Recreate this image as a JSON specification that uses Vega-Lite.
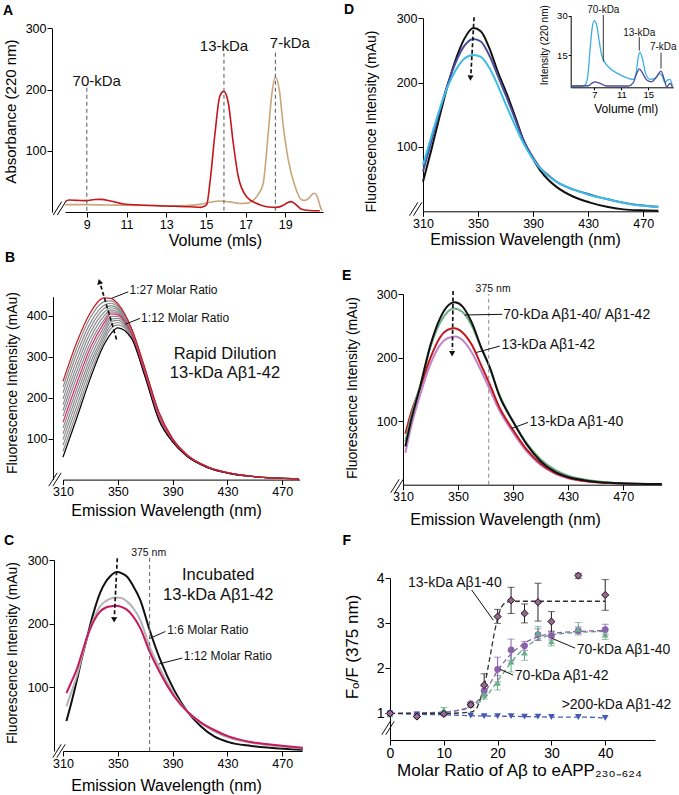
{
"$schema": "https://vega.github.io/schema/vega-lite/v6.json",
"width": 679, "height": 795, "padding": 0, "autosize": {"type": "none"}, "background": "#ffffff",
"config": {
 "view": {"stroke": null},
 "font": "Liberation Sans",
 "axis": {"grid": false, "domainColor": "#000", "tickColor": "#000", "labelColor": "#000", "titleColor": "#000", "labelFont": "Liberation Sans", "titleFont": "Liberation Sans", "titleFontWeight": "normal", "labelFontSize": 12.5, "titleFontSize": 16, "tickSize": 5, "labelPadding": 1, "titleBaseline": "middle", "domainWidth": 1, "tickWidth": 1, "labelOverlap": false, "labelFlush": false},
 "text": {"font": "Liberation Sans", "color": "#111"}
},
"datasets": {
 "A_cur": [
  {"s":"tan","x":7.91,"v":12},{"s":"tan","x":9.0,"v":12},{"s":"tan","x":10.0,"v":11.5},{"s":"tan","x":11.0,"v":11},{"s":"tan","x":12.0,"v":10.5},{"s":"tan","x":13.0,"v":10},{"s":"tan","x":14.0,"v":10.5},{"s":"tan","x":14.7,"v":12.5},{"s":"tan","x":15.2,"v":16},{"s":"tan","x":15.7,"v":18},{"s":"tan","x":16.2,"v":16.5},{"s":"tan","x":16.7,"v":14},{"s":"tan","x":17.1,"v":14.5},{"s":"tan","x":17.4,"v":19.6},{"s":"tan","x":17.7,"v":32},{"s":"tan","x":17.89,"v":47},{"s":"tan","x":18.14,"v":129},{"s":"tan","x":18.31,"v":189},{"s":"tan","x":18.5,"v":220},{"s":"tan","x":18.7,"v":199},{"s":"tan","x":18.9,"v":140},{"s":"tan","x":19.15,"v":85},{"s":"tan","x":19.5,"v":41},{"s":"tan","x":19.82,"v":20},{"s":"tan","x":20.0,"v":19},{"s":"tan","x":20.16,"v":22},{"s":"tan","x":20.45,"v":30.5},{"s":"tan","x":20.6,"v":26},{"s":"tan","x":20.75,"v":10},{"s":"tan","x":20.85,"v":2},
  {"s":"red","x":7.91,"v":17},{"s":"red","x":8.1,"v":19.5},{"s":"red","x":8.5,"v":19},{"s":"red","x":9.0,"v":18.5},{"s":"red","x":9.4,"v":20.5},{"s":"red","x":9.7,"v":20.7},{"s":"red","x":10.2,"v":18},{"s":"red","x":10.85,"v":13},{"s":"red","x":11.7,"v":11.4},{"s":"red","x":13.0,"v":9.8},{"s":"red","x":14.2,"v":8.5},{"s":"red","x":14.75,"v":7.6},{"s":"red","x":15.04,"v":12},{"s":"red","x":15.2,"v":47},{"s":"red","x":15.46,"v":129},{"s":"red","x":15.7,"v":189},{"s":"red","x":15.9,"v":197},{"s":"red","x":16.13,"v":178},{"s":"red","x":16.38,"v":112},{"s":"red","x":16.63,"v":58},{"s":"red","x":17.05,"v":25},{"s":"red","x":17.56,"v":14},{"s":"red","x":18.06,"v":8.7},{"s":"red","x":18.56,"v":7.6},{"s":"red","x":18.9,"v":11},{"s":"red","x":19.1,"v":15},{"s":"red","x":19.3,"v":17},{"s":"red","x":19.57,"v":11},{"s":"red","x":19.82,"v":4.4},{"s":"red","x":20.2,"v":2.5},{"s":"red","x":20.74,"v":2}
 ],
 "A_vl": [{"x":9,"y":2,"y2":204},{"x":15.91,"y":2,"y2":259},{"x":18.5,"y":2,"y2":264.6}],
 "A_txt": [{"x":9.5,"y":214,"t":"70-kDa"},{"x":15.91,"y":271.4,"t":"13-kDa"},{"x":19.23,"y":275.5,"t":"7-kDa"}],
 "A_seg": [{"x":7.31,"y":-4.9,"x2":7.734,"y2":16.99},{"x":7.512,"y":-4.9,"x2":7.935,"y2":16.99}],
 "A_lbl": [{"x":5.03,"y":328.6,"t":"A"}],
 "B_cur": [
  {"s":"c1","x":310,"v":226},{"s":"c1","x":320,"v":321},{"s":"c1","x":330,"v":396},{"s":"c1","x":340,"v":435},{"s":"c1","x":345,"v":437},{"s":"c1","x":350,"v":426},{"s":"c1","x":360,"v":368},{"s":"c1","x":370,"v":268},{"s":"c1","x":380,"v":163},{"s":"c1","x":390,"v":99},{"s":"c1","x":400,"v":62},{"s":"c1","x":415,"v":32},{"s":"c1","x":430,"v":17},{"s":"c1","x":450,"v":7.3},{"s":"c1","x":482,"v":2},
  {"s":"c2","x":310,"v":212},{"s":"c2","x":320,"v":307},{"s":"c2","x":330,"v":383},{"s":"c2","x":340,"v":426},{"s":"c2","x":345,"v":431},{"s":"c2","x":350,"v":422},{"s":"c2","x":360,"v":366},{"s":"c2","x":370,"v":267},{"s":"c2","x":380,"v":162},{"s":"c2","x":390,"v":99},{"s":"c2","x":400,"v":61},{"s":"c2","x":415,"v":32},{"s":"c2","x":430,"v":17},{"s":"c2","x":450,"v":7.2},{"s":"c2","x":482,"v":2},
  {"s":"c3","x":310,"v":197},{"s":"c3","x":320,"v":292},{"s":"c3","x":330,"v":371},{"s":"c3","x":340,"v":418},{"s":"c3","x":345,"v":425},{"s":"c3","x":350,"v":418},{"s":"c3","x":360,"v":364},{"s":"c3","x":370,"v":265},{"s":"c3","x":380,"v":160},{"s":"c3","x":390,"v":98},{"s":"c3","x":400,"v":61},{"s":"c3","x":415,"v":32},{"s":"c3","x":430,"v":17},{"s":"c3","x":450,"v":7.2},{"s":"c3","x":482,"v":2},
  {"s":"c4","x":310,"v":183},{"s":"c4","x":320,"v":278},{"s":"c4","x":330,"v":359},{"s":"c4","x":340,"v":409},{"s":"c4","x":345,"v":420},{"s":"c4","x":350,"v":415},{"s":"c4","x":360,"v":362},{"s":"c4","x":370,"v":264},{"s":"c4","x":380,"v":159},{"s":"c4","x":390,"v":98},{"s":"c4","x":400,"v":61},{"s":"c4","x":415,"v":31},{"s":"c4","x":430,"v":17},{"s":"c4","x":450,"v":7.1},{"s":"c4","x":482,"v":2},
  {"s":"c5","x":310,"v":169},{"s":"c5","x":320,"v":264},{"s":"c5","x":330,"v":346},{"s":"c5","x":340,"v":400},{"s":"c5","x":345,"v":415},{"s":"c5","x":350,"v":411},{"s":"c5","x":360,"v":360},{"s":"c5","x":370,"v":262},{"s":"c5","x":380,"v":157},{"s":"c5","x":390,"v":97},{"s":"c5","x":400,"v":60},{"s":"c5","x":415,"v":31},{"s":"c5","x":430,"v":17},{"s":"c5","x":450,"v":7.1},{"s":"c5","x":482,"v":2},
  {"s":"c6","x":310,"v":155},{"s":"c6","x":320,"v":250},{"s":"c6","x":330,"v":334},{"s":"c6","x":340,"v":391},{"s":"c6","x":345,"v":410},{"s":"c6","x":350,"v":407},{"s":"c6","x":360,"v":358},{"s":"c6","x":370,"v":261},{"s":"c6","x":380,"v":156},{"s":"c6","x":390,"v":96},{"s":"c6","x":400,"v":60},{"s":"c6","x":415,"v":31},{"s":"c6","x":430,"v":16.5},{"s":"c6","x":450,"v":7},{"s":"c6","x":482,"v":2},
  {"s":"c8","x":310,"v":126},{"s":"c8","x":320,"v":221},{"s":"c8","x":330,"v":310},{"s":"c8","x":340,"v":374},{"s":"c8","x":345,"v":399},{"s":"c8","x":350,"v":399},{"s":"c8","x":360,"v":355},{"s":"c8","x":370,"v":258},{"s":"c8","x":380,"v":153},{"s":"c8","x":390,"v":95},{"s":"c8","x":400,"v":60},{"s":"c8","x":415,"v":31},{"s":"c8","x":430,"v":16.5},{"s":"c8","x":450,"v":7},{"s":"c8","x":482,"v":2},
  {"s":"c9","x":310,"v":112},{"s":"c9","x":320,"v":207},{"s":"c9","x":330,"v":297},{"s":"c9","x":340,"v":365},{"s":"c9","x":345,"v":393},{"s":"c9","x":350,"v":394},{"s":"c9","x":360,"v":353},{"s":"c9","x":370,"v":256},{"s":"c9","x":380,"v":151},{"s":"c9","x":390,"v":94},{"s":"c9","x":400,"v":59},{"s":"c9","x":415,"v":31},{"s":"c9","x":430,"v":16.5},{"s":"c9","x":450,"v":7},{"s":"c9","x":482,"v":2},
  {"s":"c10","x":310,"v":98},{"s":"c10","x":320,"v":193},{"s":"c10","x":330,"v":285},{"s":"c10","x":340,"v":356},{"s":"c10","x":345,"v":386},{"s":"c10","x":350,"v":389},{"s":"c10","x":360,"v":351},{"s":"c10","x":370,"v":255},{"s":"c10","x":380,"v":150},{"s":"c10","x":390,"v":94},{"s":"c10","x":400,"v":59},{"s":"c10","x":415,"v":30},{"s":"c10","x":430,"v":16},{"s":"c10","x":450,"v":7},{"s":"c10","x":482,"v":2},
  {"s":"c11","x":310,"v":84},{"s":"c11","x":320,"v":178},{"s":"c11","x":330,"v":273},{"s":"c11","x":340,"v":348},{"s":"c11","x":345,"v":378},{"s":"c11","x":350,"v":384},{"s":"c11","x":360,"v":349},{"s":"c11","x":370,"v":253},{"s":"c11","x":380,"v":148},{"s":"c11","x":390,"v":93},{"s":"c11","x":400,"v":59},{"s":"c11","x":415,"v":30},{"s":"c11","x":430,"v":16},{"s":"c11","x":450,"v":7},{"s":"c11","x":482,"v":2},
  {"s":"c12","x":310,"v":69},{"s":"c12","x":320,"v":164},{"s":"c12","x":330,"v":260},{"s":"c12","x":340,"v":339},{"s":"c12","x":345,"v":370},{"s":"c12","x":350,"v":378},{"s":"c12","x":360,"v":347},{"s":"c12","x":370,"v":252},{"s":"c12","x":380,"v":147},{"s":"c12","x":390,"v":93},{"s":"c12","x":400,"v":58},{"s":"c12","x":415,"v":30},{"s":"c12","x":430,"v":16},{"s":"c12","x":450,"v":7},{"s":"c12","x":482,"v":2},
  {"s":"c13","x":310,"v":55},{"s":"c13","x":320,"v":150},{"s":"c13","x":330,"v":248},{"s":"c13","x":340,"v":330},{"s":"c13","x":345,"v":357},{"s":"c13","x":350,"v":371},{"s":"c13","x":360,"v":345},{"s":"c13","x":370,"v":250},{"s":"c13","x":380,"v":145},{"s":"c13","x":390,"v":92},{"s":"c13","x":400,"v":58},{"s":"c13","x":415,"v":30},{"s":"c13","x":430,"v":16},{"s":"c13","x":450,"v":7},{"s":"c13","x":482,"v":2},
  {"s":"c7","x":310,"v":140},{"s":"c7","x":320,"v":235},{"s":"c7","x":330,"v":322},{"s":"c7","x":340,"v":383},{"s":"c7","x":345,"v":405},{"s":"c7","x":350,"v":403},{"s":"c7","x":360,"v":357},{"s":"c7","x":370,"v":259},{"s":"c7","x":380,"v":154},{"s":"c7","x":390,"v":96},{"s":"c7","x":400,"v":60},{"s":"c7","x":415,"v":31},{"s":"c7","x":430,"v":16.5},{"s":"c7","x":450,"v":7},{"s":"c7","x":482,"v":2},
  {"s":"c0","x":310,"v":240},{"s":"c0","x":320,"v":335},{"s":"c0","x":330,"v":408},{"s":"c0","x":340,"v":444},{"s":"c0","x":345,"v":443},{"s":"c0","x":350,"v":430},{"s":"c0","x":360,"v":370},{"s":"c0","x":370,"v":270},{"s":"c0","x":380,"v":165},{"s":"c0","x":390,"v":100},{"s":"c0","x":400,"v":62},{"s":"c0","x":415,"v":32},{"s":"c0","x":430,"v":17},{"s":"c0","x":450,"v":7.5},{"s":"c0","x":482,"v":2}
 ],
 "B_arrow": [{"x":337.6,"y":474,"x2":349.2,"y2":341}],
 "B_head": [{"x":336.6,"y":484}],
 "B_seg": [{"x":345.5,"y":443,"x2":357.6,"y2":459},{"x":355.2,"y":379.5,"x2":366.2,"y2":394},{"x":299.64,"y":-16.1,"x2":305.77,"y2":16.6},{"x":302.56,"y":-16.1,"x2":308.69,"y2":16.6}],
 "B_txtL": [{"x":358.5,"y":463,"t":"1:27 Molar Ratio"},{"x":367,"y":395.7,"t":"1:12 Molar Ratio"}],
 "B_txtC": [{"x":428.2,"y":306,"t":"Rapid Dilution"},{"x":428.2,"y":260,"t":"13-kDa Aβ1-42"}],
 "B_lbl": [{"x":271.3,"y":541.5,"t":"B"}],
 "C_cur": [
  {"s":"black","x":312.5,"v":47},{"s":"black","x":316,"v":75},{"s":"black","x":320,"v":110},{"s":"black","x":324,"v":148},{"s":"black","x":327.2,"v":175},{"s":"black","x":332,"v":215},{"s":"black","x":337,"v":248},{"s":"black","x":341,"v":265},{"s":"black","x":344.3,"v":274},{"s":"black","x":349.2,"v":281},{"s":"black","x":353,"v":279},{"s":"black","x":356.6,"v":274},{"s":"black","x":361,"v":260},{"s":"black","x":366.4,"v":237},{"s":"black","x":373.2,"v":190},{"s":"black","x":381,"v":143},{"s":"black","x":391,"v":96},{"s":"black","x":400.7,"v":62},{"s":"black","x":410.5,"v":39},{"s":"black","x":420.3,"v":23},{"s":"black","x":430.8,"v":14},{"s":"black","x":447.3,"v":8},{"s":"black","x":471.3,"v":3.4},{"s":"black","x":485,"v":2},
  {"s":"grey","x":312.5,"v":70},{"s":"grey","x":316,"v":92},{"s":"grey","x":320,"v":117},{"s":"grey","x":324,"v":150},{"s":"grey","x":327.2,"v":175},{"s":"grey","x":332,"v":205},{"s":"grey","x":337,"v":227},{"s":"grey","x":341,"v":235},{"s":"grey","x":344.3,"v":239},{"s":"grey","x":349.2,"v":241},{"s":"grey","x":353,"v":240},{"s":"grey","x":356.6,"v":235},{"s":"grey","x":361,"v":225},{"s":"grey","x":366.4,"v":206},{"s":"grey","x":373.2,"v":164},{"s":"grey","x":381,"v":128},{"s":"grey","x":391,"v":89},{"s":"grey","x":400.7,"v":62},{"s":"grey","x":410.5,"v":44},{"s":"grey","x":420.3,"v":31},{"s":"grey","x":430.8,"v":21},{"s":"grey","x":447.3,"v":13},{"s":"grey","x":471.3,"v":6.5},{"s":"grey","x":485,"v":4},
  {"s":"mag","x":312.5,"v":91},{"s":"mag","x":316,"v":108},{"s":"mag","x":320,"v":128},{"s":"mag","x":324,"v":155},{"s":"mag","x":327.2,"v":177},{"s":"mag","x":332,"v":202},{"s":"mag","x":337,"v":219},{"s":"mag","x":341,"v":225},{"s":"mag","x":344.3,"v":227},{"s":"mag","x":348,"v":228},{"s":"mag","x":353,"v":226},{"s":"mag","x":356.6,"v":222},{"s":"mag","x":361,"v":212},{"s":"mag","x":366.4,"v":193},{"s":"mag","x":373.2,"v":156},{"s":"mag","x":381,"v":122},{"s":"mag","x":391,"v":86},{"s":"mag","x":400.7,"v":62},{"s":"mag","x":410.5,"v":45},{"s":"mag","x":420.3,"v":33},{"s":"mag","x":430.8,"v":23},{"s":"mag","x":447.3,"v":14},{"s":"mag","x":471.3,"v":8},{"s":"mag","x":485,"v":5}
 ],
 "C_vl": [{"x":373.2,"y":0,"y2":304}],
 "C_arrow": [{"x":349.6,"y":302.7,"x2":347.5,"y2":212}],
 "C_head": [{"x":347.3,"y":206}],
 "C_seg": [{"x":373.2,"y":176.8,"x2":384.7,"y2":187.7},{"x":379.9,"y":136.6,"x2":397,"y2":146},{"x":302.56,"y":-10.5,"x2":308.69,"y2":10.5},{"x":305.48,"y":-10.5,"x2":311.6,"y2":10.5}],
 "C_txtL": [{"x":386,"y":190.3,"t":"1:6 Molar Ratio"},{"x":398.2,"y":149.6,"t":"1:12 Molar Ratio"}],
 "C_txtC": [{"x":423.3,"y":276.4,"t":"Incubated"},{"x":423.3,"y":245,"t":"13-kDa Aβ1-42"}],
 "C_txtS": [{"x":372.5,"y":311.5,"t":"375 nm"}],
 "C_lbl": [{"x":270.6,"y":329.8,"t":"C"}],
 "D_cur": [
  {"s":"black","x":310,"v":46},{"s":"black","x":316,"v":95},{"s":"black","x":322,"v":147},{"s":"black","x":328,"v":196},{"s":"black","x":334.5,"v":240},{"s":"black","x":340,"v":268},{"s":"black","x":346.6,"v":285},{"s":"black","x":352,"v":280},{"s":"black","x":358.7,"v":251},{"s":"black","x":364.5,"v":216},{"s":"black","x":370.8,"v":183},{"s":"black","x":377,"v":147},{"s":"black","x":383,"v":111},{"s":"black","x":389,"v":85},{"s":"black","x":395,"v":64},{"s":"black","x":401,"v":49},{"s":"black","x":407,"v":38},{"s":"black","x":419,"v":23},{"s":"black","x":431.5,"v":13.5},{"s":"black","x":443.6,"v":7},{"s":"black","x":455.7,"v":3},{"s":"black","x":468,"v":1.5},{"s":"black","x":481,"v":1},
  {"s":"dark","x":310,"v":62},{"s":"dark","x":316,"v":108},{"s":"dark","x":322,"v":155},{"s":"dark","x":328,"v":198},{"s":"dark","x":334.5,"v":235},{"s":"dark","x":340,"v":257},{"s":"dark","x":346.6,"v":268},{"s":"dark","x":352,"v":264},{"s":"dark","x":358.7,"v":240},{"s":"dark","x":364.5,"v":210},{"s":"dark","x":370.8,"v":177},{"s":"dark","x":377,"v":143},{"s":"dark","x":383,"v":110},{"s":"dark","x":389,"v":87},{"s":"dark","x":395,"v":68},{"s":"dark","x":401,"v":56},{"s":"dark","x":407,"v":46},{"s":"dark","x":419,"v":34},{"s":"dark","x":431.5,"v":26},{"s":"dark","x":443.6,"v":19},{"s":"dark","x":455.7,"v":13.5},{"s":"dark","x":468,"v":9.5},{"s":"dark","x":481,"v":7},
  {"s":"light","x":310,"v":72},{"s":"light","x":316,"v":116},{"s":"light","x":322,"v":158},{"s":"light","x":328,"v":194},{"s":"light","x":334.5,"v":222},{"s":"light","x":340,"v":237},{"s":"light","x":346.6,"v":243},{"s":"light","x":352,"v":240},{"s":"light","x":358.7,"v":221},{"s":"light","x":364.5,"v":195},{"s":"light","x":370.8,"v":163},{"s":"light","x":377,"v":133},{"s":"light","x":383,"v":106},{"s":"light","x":389,"v":84},{"s":"light","x":395,"v":67},{"s":"light","x":401,"v":55},{"s":"light","x":407,"v":46},{"s":"light","x":419,"v":34},{"s":"light","x":431.5,"v":25},{"s":"light","x":443.6,"v":19},{"s":"light","x":455.7,"v":13},{"s":"light","x":468,"v":9},{"s":"light","x":481,"v":7}
 ],
 "D_arrow": [{"x":347.1,"y":301.6,"x2":344.8,"y2":213}],
 "D_head": [{"x":344.5,"y":207}],
 "D_seg": [{"x":300.19,"y":-6.84,"x2":306.29,"y2":13.99},{"x":303.1,"y":-6.84,"x2":309.2,"y2":13.99}],
 "D_lbl": [{"x":256.2,"y":312.9,"t":"D"}],
 "I_cur": [
  {"s":"lb","x":3.65,"v":3.2},{"s":"lb","x":5.13,"v":3.2},{"s":"lb","x":5.62,"v":3.6},{"s":"lb","x":6.02,"v":6.7},{"s":"lb","x":6.36,"v":16.9},{"s":"lb","x":6.71,"v":25.8},{"s":"lb","x":7.0,"v":28.1},{"s":"lb","x":7.35,"v":26.4},{"s":"lb","x":7.7,"v":20.7},{"s":"lb","x":8.09,"v":15},{"s":"lb","x":8.49,"v":12.5},{"s":"lb","x":9.33,"v":9.9},{"s":"lb","x":10.56,"v":7.8},{"s":"lb","x":12.04,"v":6.1},{"s":"lb","x":12.78,"v":5.7},{"s":"lb","x":13.18,"v":8},{"s":"lb","x":13.52,"v":14.4},{"s":"lb","x":13.77,"v":16},{"s":"lb","x":14.12,"v":13.7},{"s":"lb","x":14.6,"v":8},{"s":"lb","x":15.25,"v":5.7},{"s":"lb","x":15.99,"v":6.1},{"s":"lb","x":16.59,"v":7.8},{"s":"lb","x":16.98,"v":7.4},{"s":"lb","x":17.48,"v":4.5},{"s":"lb","x":17.87,"v":5.5},{"s":"lb","x":18.22,"v":5.7},{"s":"lb","x":18.56,"v":3.2},
  {"s":"db","x":3.65,"v":3.2},{"s":"db","x":6.12,"v":3.3},{"s":"db","x":6.61,"v":4.2},{"s":"db","x":7.1,"v":4.8},{"s":"db","x":7.85,"v":4.2},{"s":"db","x":8.83,"v":3.2},{"s":"db","x":12.04,"v":3.2},{"s":"db","x":12.78,"v":4.5},{"s":"db","x":13.28,"v":8},{"s":"db","x":13.67,"v":9.7},{"s":"db","x":14.12,"v":8.2},{"s":"db","x":14.76,"v":5.5},{"s":"db","x":15.5,"v":4.8},{"s":"db","x":16.24,"v":6.7},{"s":"db","x":16.88,"v":8.9},{"s":"db","x":17.38,"v":5.5},{"s":"db","x":17.72,"v":2.8},{"s":"db","x":18.22,"v":4.2},{"s":"db","x":18.56,"v":2.8}
 ],
 "I_seg": [{"x":8.33,"y":30.3,"x2":8.33,"y2":12.5},{"x":13.66,"y":21.8,"x2":13.66,"y2":16.7},{"x":16.88,"y":15.9,"x2":16.88,"y2":9.9}],
 "I_txt": [{"x":8.33,"y":32.2,"t":"70-kDa"},{"x":13.66,"y":23.5,"t":"13-kDa"},{"x":17.22,"y":18.2,"t":"7-kDa"}],
 "E_cur": [
  {"s":"pink","x":311.7,"v":50},{"s":"pink","x":316,"v":92},{"s":"pink","x":322,"v":138},{"s":"pink","x":330,"v":190},{"s":"pink","x":337,"v":220},{"s":"pink","x":342,"v":230},{"s":"pink","x":348,"v":233},{"s":"pink","x":353,"v":228},{"s":"pink","x":360,"v":208},{"s":"pink","x":367,"v":178},{"s":"pink","x":373,"v":150},{"s":"pink","x":380,"v":117},{"s":"pink","x":390,"v":82},{"s":"pink","x":400,"v":52},{"s":"pink","x":410,"v":31},{"s":"pink","x":420,"v":18},{"s":"pink","x":430,"v":10},{"s":"pink","x":445,"v":5},{"s":"pink","x":460,"v":2.5},{"s":"pink","x":480,"v":1.2},{"s":"pink","x":498,"v":1},
  {"s":"red","x":311.7,"v":80},{"s":"red","x":316,"v":114},{"s":"red","x":322,"v":150},{"s":"red","x":330,"v":200},{"s":"red","x":337,"v":232},{"s":"red","x":342,"v":243},{"s":"red","x":347,"v":246},{"s":"red","x":353,"v":240},{"s":"red","x":360,"v":220},{"s":"red","x":367,"v":187},{"s":"red","x":373,"v":158},{"s":"red","x":380,"v":122},{"s":"red","x":390,"v":86},{"s":"red","x":400,"v":55},{"s":"red","x":410,"v":33},{"s":"red","x":420,"v":19},{"s":"red","x":430,"v":11},{"s":"red","x":445,"v":5},{"s":"red","x":460,"v":2.5},{"s":"red","x":480,"v":1.2},{"s":"red","x":498,"v":1},
  {"s":"green","x":311.7,"v":68},{"s":"green","x":316,"v":108},{"s":"green","x":322,"v":152},{"s":"green","x":330,"v":217},{"s":"green","x":337,"v":255},{"s":"green","x":342,"v":271},{"s":"green","x":347,"v":277},{"s":"green","x":353,"v":272},{"s":"green","x":360,"v":250},{"s":"green","x":367,"v":214},{"s":"green","x":373,"v":184},{"s":"green","x":380,"v":142},{"s":"green","x":390,"v":100},{"s":"green","x":400,"v":65},{"s":"green","x":410,"v":40},{"s":"green","x":420,"v":24},{"s":"green","x":430,"v":14},{"s":"green","x":445,"v":7},{"s":"green","x":460,"v":3.5},{"s":"green","x":480,"v":1.5},{"s":"green","x":498,"v":1},
  {"s":"black","x":311.7,"v":60},{"s":"black","x":316,"v":102},{"s":"black","x":322,"v":150},{"s":"black","x":330,"v":220},{"s":"black","x":337,"v":262},{"s":"black","x":342,"v":280},{"s":"black","x":347.6,"v":287},{"s":"black","x":353,"v":281},{"s":"black","x":360,"v":255},{"s":"black","x":367,"v":215},{"s":"black","x":373,"v":185},{"s":"black","x":380,"v":140},{"s":"black","x":390,"v":99},{"s":"black","x":400,"v":63},{"s":"black","x":410,"v":37},{"s":"black","x":420,"v":21},{"s":"black","x":430,"v":12},{"s":"black","x":445,"v":6},{"s":"black","x":460,"v":3},{"s":"black","x":480,"v":1.5},{"s":"black","x":498,"v":1}
 ],
 "E_vl": [{"x":372.3,"y":0,"y2":300}],
 "E_arrow": [{"x":346.4,"y":304.7,"x2":345.9,"y2":212}],
 "E_head": [{"x":345.7,"y":206}],
 "E_seg": [{"x":354.8,"y":267,"x2":382.2,"y2":268},{"x":363.3,"y":208,"x2":380.3,"y2":218},{"x":388.8,"y":88.4,"x2":400.9,"y2":98},{"x":301.13,"y":-12.58,"x2":307.24,"y2":8.5},{"x":304.04,"y":-12.58,"x2":310.15,"y2":8.5}],
 "E_txtL": [{"x":382.9,"y":267,"t":"70-kDa Aβ1-40/ Aβ1-42"},{"x":381.5,"y":219.7,"t":"13-kDa Aβ1-42"},{"x":402,"y":99,"t":"13-kDa Aβ1-40"}],
 "E_txtS": [{"x":375.5,"y":307.9,"t":"375 nm"}],
 "E_lbl": [{"x":269.1,"y":328.3,"t":"E"}],
 "F_fit": [
  {"s":"f200","x":0,"v":1.0},{"s":"f200","x":5,"v":0.98},{"s":"f200","x":10,"v":0.97},{"s":"f200","x":15,"v":0.95},{"s":"f200","x":20,"v":0.94},{"s":"f200","x":25,"v":0.93},{"s":"f200","x":30,"v":0.92},{"s":"f200","x":35,"v":0.92},{"s":"f200","x":40,"v":0.9},
  {"s":"f40","x":0,"v":1.0},{"s":"f40","x":10,"v":1.03},{"s":"f40","x":12.5,"v":1.07},{"s":"f40","x":15,"v":1.15},{"s":"f40","x":17.5,"v":1.33},{"s":"f40","x":20,"v":1.72},{"s":"f40","x":22.5,"v":2.13},{"s":"f40","x":25,"v":2.45},{"s":"f40","x":27.5,"v":2.64},{"s":"f40","x":30,"v":2.74},{"s":"f40","x":35,"v":2.8},{"s":"f40","x":40,"v":2.82},
  {"s":"f42","x":0,"v":1.0},{"s":"f42","x":10,"v":1.02},{"s":"f42","x":12.5,"v":1.06},{"s":"f42","x":15,"v":1.15},{"s":"f42","x":17.5,"v":1.45},{"s":"f42","x":20,"v":1.95},{"s":"f42","x":22.5,"v":2.32},{"s":"f42","x":25,"v":2.56},{"s":"f42","x":27.5,"v":2.7},{"s":"f42","x":30,"v":2.77},{"s":"f42","x":35,"v":2.82},{"s":"f42","x":40,"v":2.84},
  {"s":"f13","x":0,"v":1.0},{"s":"f13","x":10,"v":1.0},{"s":"f13","x":15,"v":1.03},{"s":"f13","x":16,"v":1.1},{"s":"f13","x":17,"v":1.4},{"s":"f13","x":17.5,"v":1.6},{"s":"f13","x":18.5,"v":2.2},{"s":"f13","x":19.5,"v":2.85},{"s":"f13","x":20.5,"v":3.3},{"s":"f13","x":21.5,"v":3.46},{"s":"f13","x":22.5,"v":3.49},{"s":"f13","x":30,"v":3.49},{"s":"f13","x":40,"v":3.49}
 ],
 "F_err": [
  {"s":"t40","x":10,"lo":1.03,"hi":1.13},{"s":"t40","x":17.5,"lo":1.32,"hi":1.52},{"s":"t40","x":20,"lo":1.52,"hi":1.84},{"s":"t40","x":22.5,"lo":1.92,"hi":2.38},{"s":"t40","x":25,"lo":2.18,"hi":2.52},{"s":"t40","x":27.5,"lo":2.63,"hi":2.93},{"s":"t40","x":30,"lo":2.5,"hi":2.7},{"s":"t40","x":35,"lo":2.74,"hi":3.02},{"s":"t40","x":40,"lo":2.64,"hi":2.86},
  {"s":"c42","x":17.5,"lo":1.4,"hi":1.6},{"s":"c42","x":20,"lo":1.7,"hi":2.25},{"s":"c42","x":22.5,"lo":2.17,"hi":2.65},{"s":"c42","x":25,"lo":2.4,"hi":2.6},{"s":"c42","x":27.5,"lo":2.62,"hi":2.88},{"s":"c42","x":30,"lo":2.63,"hi":2.83},{"s":"c42","x":35,"lo":2.77,"hi":2.92},{"s":"c42","x":40,"lo":2.76,"hi":2.98},
  {"s":"d13","x":15,"lo":1.14,"hi":1.24},{"s":"d13","x":17.5,"lo":1.41,"hi":1.88},{"s":"d13","x":20,"lo":3.0,"hi":3.31},{"s":"d13","x":22.5,"lo":3.22,"hi":3.8},{"s":"d13","x":25,"lo":3.01,"hi":3.43},{"s":"d13","x":27.5,"lo":3.05,"hi":3.89},{"s":"d13","x":30,"lo":2.81,"hi":3.26},{"s":"d13","x":35,"lo":4.0,"hi":4.11},{"s":"d13","x":40,"lo":3.29,"hi":3.97}
 ],
 "F_pts": [
  {"s":"c42","x":0,"v":1.0},{"s":"c42","x":5,"v":0.97},{"s":"c42","x":10,"v":1.0},{"s":"c42","x":15,"v":1.22},{"s":"c42","x":17.5,"v":1.5},{"s":"c42","x":20,"v":1.98},{"s":"c42","x":22.5,"v":2.41},{"s":"c42","x":25,"v":2.5},{"s":"c42","x":27.5,"v":2.75},{"s":"c42","x":30,"v":2.73},{"s":"c42","x":35,"v":2.84},{"s":"c42","x":40,"v":2.86},
  {"s":"t40","x":0,"v":0.98},{"s":"t40","x":5,"v":0.96},{"s":"t40","x":10,"v":1.08},{"s":"t40","x":15,"v":1.22},{"s":"t40","x":17.5,"v":1.42},{"s":"t40","x":20,"v":1.68},{"s":"t40","x":22.5,"v":2.15},{"s":"t40","x":25,"v":2.35},{"s":"t40","x":27.5,"v":2.78},{"s":"t40","x":30,"v":2.6},{"s":"t40","x":35,"v":2.88},{"s":"t40","x":40,"v":2.75},
  {"s":"v200","x":0,"v":1.0},{"s":"v200","x":5,"v":0.98},{"s":"v200","x":10,"v":0.97},{"s":"v200","x":15,"v":0.95},{"s":"v200","x":17.5,"v":0.94},{"s":"v200","x":20,"v":0.94},{"s":"v200","x":22.5,"v":0.94},{"s":"v200","x":25,"v":0.93},{"s":"v200","x":27.5,"v":0.93},{"s":"v200","x":30,"v":0.92},{"s":"v200","x":35,"v":0.92},{"s":"v200","x":40,"v":0.9}
 ],
 "F_d13": [{"x":0,"v":1.0},{"x":5,"v":0.93},{"x":10,"v":0.99},{"x":15,"v":1.19},{"x":17.5,"v":1.63},{"x":20,"v":3.15},{"x":22.5,"v":3.51},{"x":25,"v":3.22},{"x":27.5,"v":3.47},{"x":30,"v":3.04},{"x":35,"v":4.06},{"x":40,"v":3.63}],
 "F_seg": [{"x":15.18,"y":3.74,"x2":19.2,"y2":3.07},{"x":30.05,"y":2.67,"x2":34.4,"y2":2.45},{"x":20.45,"y":1.98,"x2":22.9,"y2":1.85},{"x":-1.524,"y":0.527,"x2":0.037,"y2":0.825},{"x":-0.781,"y":0.527,"x2":0.781,"y2":0.825}],
 "F_txt": [{"x":3.35,"y":3.89,"t":"13-kDa Aβ1-40"},{"x":34.7,"y":2.41,"t":"70-kDa Aβ1-40"},{"x":23.2,"y":1.83,"t":"70-kDa Aβ1-42"},{"x":31.9,"y":1.19,"t":">200-kDa Aβ1-42"}],
 "F_lbl": [{"x":-8.05,"y":4.83,"t":"F"}]
},
"resolve": {"scale": {"x": "independent", "y": "independent", "color": "independent", "shape": "independent"}, "axis": {"x": "independent", "y": "independent"}},
"layer": [
 {"layer": [
  {"data": {"name": "A_cur"}, "mark": {"type": "line", "strokeWidth": 1.6, "interpolate": "monotone"},
   "encoding": {
    "x": {"field": "x", "type": "quantitative", "scale": {"domain": [7.9, 20.9], "range": [65, 323], "nice": false, "zero": false}, "axis": {"orient": "bottom", "offset": -583, "values": [9, 11, 13, 15, 17, 19], "format": "d", "title": "Volume (mls)", "titleX": 215, "titleY": 28}},
    "y": {"field": "v", "type": "quantitative", "scale": {"domain": [0, 300], "range": [212, 28.3], "nice": false, "zero": false}, "axis": {"orient": "left", "offset": -52, "values": [100, 200, 300], "format": "d", "title": "Absorbance (220 nm)", "titleFontSize": 15, "titleX": -42, "titleY": 111}},
    "color": {"field": "s", "type": "nominal", "scale": {"domain": ["tan", "red"], "range": ["#c9a67a", "#c3161d"]}, "legend": null}
   }},
  {"data": {"name": "A_vl"}, "mark": {"type": "rule", "color": "#555", "strokeDash": [4, 3], "strokeWidth": 1},
   "encoding": {"x": {"field": "x", "type": "quantitative"}, "y": {"field": "y", "type": "quantitative"}, "y2": {"field": "y2"}}},
  {"data": {"name": "A_txt"}, "mark": {"type": "text", "fontSize": 15, "align": "center", "baseline": "middle"},
   "encoding": {"x": {"field": "x", "type": "quantitative"}, "y": {"field": "y", "type": "quantitative"}, "text": {"field": "t"}}},
  {"data": {"name": "A_seg"}, "mark": {"type": "rule", "color": "#000", "strokeWidth": 1},
   "encoding": {"x": {"field": "x", "type": "quantitative"}, "y": {"field": "y", "type": "quantitative"}, "x2": {"field": "x2"}, "y2": {"field": "y2"}}},
  {"data": {"name": "A_lbl"}, "mark": {"type": "text", "fontSize": 14, "fontWeight": "bold", "align": "center", "baseline": "middle", "color": "#000"},
   "encoding": {"x": {"field": "x", "type": "quantitative"}, "y": {"field": "y", "type": "quantitative"}, "text": {"field": "t"}}}
 ]},
 {"layer": [
  {"data": {"name": "B_cur"}, "mark": {"type": "line", "strokeWidth": 1.2, "interpolate": "monotone"},
   "encoding": {
    "x": {"field": "x", "type": "quantitative", "scale": {"domain": [310, 482.7], "range": [63, 299.7], "nice": false, "zero": false}, "axis": {"orient": "bottom", "offset": -315.4, "values": [310, 350, 390, 430, 470], "format": "d", "title": "Emission Wavelength (nm)", "titleX": 166, "titleY": 30.4}},
    "y": {"field": "v", "type": "quantitative", "scale": {"domain": [0, 447], "range": [479.6, 296.7], "nice": false, "zero": false}, "axis": {"orient": "left", "offset": -53, "values": [100, 200, 300, 400], "format": "d", "title": "Fluorescence Intensity (mAu)", "titleFontSize": 14, "titleX": -41, "titleY": 382.5}},
    "color": {"field": "s", "type": "nominal", "scale": {"domain": ["c0","c1","c2","c3","c4","c5","c6","c7","c8","c9","c10","c11","c12","c13"], "range": ["#c41e24","#8c8c8c","#8c8c8c","#8c8c8c","#8c8c8c","#8c8c8c","#8c8c8c","#d62a6e","#8c8c8c","#8c8c8c","#8c8c8c","#8c8c8c","#8c8c8c","#000000"]}, "legend": null}
   }},
  {"data": {"name": "B_arrow"}, "mark": {"type": "rule", "color": "#111", "strokeDash": [4, 2.5], "strokeWidth": 1.7},
   "encoding": {"x": {"field": "x", "type": "quantitative"}, "y": {"field": "y", "type": "quantitative"}, "x2": {"field": "x2"}, "y2": {"field": "y2"}}},
  {"data": {"name": "B_head"}, "mark": {"type": "point", "shape": "triangle-up", "angle": -16, "filled": true, "color": "#111", "size": 38, "opacity": 1},
   "encoding": {"x": {"field": "x", "type": "quantitative"}, "y": {"field": "y", "type": "quantitative"}}},
  {"data": {"name": "B_seg"}, "mark": {"type": "rule", "color": "#111", "strokeWidth": 1},
   "encoding": {"x": {"field": "x", "type": "quantitative"}, "y": {"field": "y", "type": "quantitative"}, "x2": {"field": "x2"}, "y2": {"field": "y2"}}},
  {"data": {"name": "B_txtL"}, "mark": {"type": "text", "fontSize": 12, "align": "left", "baseline": "middle"},
   "encoding": {"x": {"field": "x", "type": "quantitative"}, "y": {"field": "y", "type": "quantitative"}, "text": {"field": "t"}}},
  {"data": {"name": "B_txtC"}, "mark": {"type": "text", "fontSize": 16.5, "align": "center", "baseline": "middle"},
   "encoding": {"x": {"field": "x", "type": "quantitative"}, "y": {"field": "y", "type": "quantitative"}, "text": {"field": "t"}}},
  {"data": {"name": "B_lbl"}, "mark": {"type": "text", "fontSize": 14, "fontWeight": "bold", "align": "center", "baseline": "middle", "color": "#000"},
   "encoding": {"x": {"field": "x", "type": "quantitative"}, "y": {"field": "y", "type": "quantitative"}, "text": {"field": "t"}}}
 ]},
 {"layer": [
  {"data": {"name": "C_cur"}, "mark": {"type": "line", "strokeWidth": 2, "interpolate": "monotone"},
   "encoding": {
    "x": {"field": "x", "type": "quantitative", "scale": {"domain": [310, 484.4], "range": [63, 302], "nice": false, "zero": false}, "axis": {"orient": "bottom", "offset": -44, "values": [310, 350, 390, 430, 470], "format": "d", "title": "Emission Wavelength (nm)", "titleX": 166, "titleY": 34}},
    "y": {"field": "v", "type": "quantitative", "scale": {"domain": [0, 300], "range": [751, 560], "nice": false, "zero": false}, "axis": {"orient": "left", "offset": -54, "values": [100, 200, 300], "format": "d", "title": "Fluorescence Intensity (mAu)", "titleFontSize": 14, "titleX": -42, "titleY": 652.5}},
    "color": {"field": "s", "type": "nominal", "scale": {"domain": ["black", "grey", "mag"], "range": ["#111111", "#b3b3b3", "#c8195c"]}, "legend": null}
   }},
  {"data": {"name": "C_vl"}, "mark": {"type": "rule", "color": "#666", "strokeDash": [4, 3], "strokeWidth": 1},
   "encoding": {"x": {"field": "x", "type": "quantitative"}, "y": {"field": "y", "type": "quantitative"}, "y2": {"field": "y2"}}},
  {"data": {"name": "C_arrow"}, "mark": {"type": "rule", "color": "#111", "strokeDash": [4, 2.5], "strokeWidth": 1.7},
   "encoding": {"x": {"field": "x", "type": "quantitative"}, "y": {"field": "y", "type": "quantitative"}, "x2": {"field": "x2"}, "y2": {"field": "y2"}}},
  {"data": {"name": "C_head"}, "mark": {"type": "point", "shape": "triangle-down", "angle": 1, "filled": true, "color": "#111", "size": 38, "opacity": 1},
   "encoding": {"x": {"field": "x", "type": "quantitative"}, "y": {"field": "y", "type": "quantitative"}}},
  {"data": {"name": "C_seg"}, "mark": {"type": "rule", "color": "#111", "strokeWidth": 1},
   "encoding": {"x": {"field": "x", "type": "quantitative"}, "y": {"field": "y", "type": "quantitative"}, "x2": {"field": "x2"}, "y2": {"field": "y2"}}},
  {"data": {"name": "C_txtL"}, "mark": {"type": "text", "fontSize": 12, "align": "left", "baseline": "middle"},
   "encoding": {"x": {"field": "x", "type": "quantitative"}, "y": {"field": "y", "type": "quantitative"}, "text": {"field": "t"}}},
  {"data": {"name": "C_txtC"}, "mark": {"type": "text", "fontSize": 16.5, "align": "center", "baseline": "middle"},
   "encoding": {"x": {"field": "x", "type": "quantitative"}, "y": {"field": "y", "type": "quantitative"}, "text": {"field": "t"}}},
  {"data": {"name": "C_txtS"}, "mark": {"type": "text", "fontSize": 10.5, "align": "center", "baseline": "middle"},
   "encoding": {"x": {"field": "x", "type": "quantitative"}, "y": {"field": "y", "type": "quantitative"}, "text": {"field": "t"}}},
  {"data": {"name": "C_lbl"}, "mark": {"type": "text", "fontSize": 14, "fontWeight": "bold", "align": "center", "baseline": "middle", "color": "#000"},
   "encoding": {"x": {"field": "x", "type": "quantitative"}, "y": {"field": "y", "type": "quantitative"}, "text": {"field": "t"}}}
 ]},
 {"layer": [
  {"data": {"name": "D_cur"}, "mark": {"type": "line", "strokeWidth": 2, "interpolate": "monotone"},
   "encoding": {
    "x": {"field": "x", "type": "quantitative", "scale": {"domain": [310, 481], "range": [423, 658.3], "nice": false, "zero": false}, "axis": {"orient": "bottom", "offset": -583.7, "values": [310, 350, 390, 430, 470], "format": "d", "title": "Emission Wavelength (nm)", "titleX": 525, "titleY": 27.7}},
    "y": {"field": "v", "type": "quantitative", "scale": {"domain": [0, 300], "range": [211.3, 18.3], "nice": false, "zero": false}, "axis": {"orient": "left", "offset": -423, "values": [100, 200, 300], "format": "d", "title": "Fluorescence Intensity (mAu)", "titleFontSize": 14, "titleX": -52, "titleY": 121}},
    "color": {"field": "s", "type": "nominal", "scale": {"domain": ["black", "dark", "light"], "range": ["#111111", "#4b4c9a", "#3cbde6"]}, "legend": null}
   }},
  {"data": {"name": "D_arrow"}, "mark": {"type": "rule", "color": "#111", "strokeDash": [4, 2.5], "strokeWidth": 1.7},
   "encoding": {"x": {"field": "x", "type": "quantitative"}, "y": {"field": "y", "type": "quantitative"}, "x2": {"field": "x2"}, "y2": {"field": "y2"}}},
  {"data": {"name": "D_head"}, "mark": {"type": "point", "shape": "triangle-down", "angle": 2, "filled": true, "color": "#111", "size": 38, "opacity": 1},
   "encoding": {"x": {"field": "x", "type": "quantitative"}, "y": {"field": "y", "type": "quantitative"}}},
  {"data": {"name": "D_seg"}, "mark": {"type": "rule", "color": "#111", "strokeWidth": 1},
   "encoding": {"x": {"field": "x", "type": "quantitative"}, "y": {"field": "y", "type": "quantitative"}, "x2": {"field": "x2"}, "y2": {"field": "y2"}}},
  {"data": {"name": "D_lbl"}, "mark": {"type": "text", "fontSize": 14, "fontWeight": "bold", "align": "center", "baseline": "middle", "color": "#000"},
   "encoding": {"x": {"field": "x", "type": "quantitative"}, "y": {"field": "y", "type": "quantitative"}, "text": {"field": "t"}}}
 ]},
 {"layer": [
  {"data": {"name": "I_cur"}, "mark": {"type": "line", "strokeWidth": 1.3, "interpolate": "monotone"},
   "encoding": {
    "x": {"field": "x", "type": "quantitative", "scale": {"domain": [3.5, 18.7], "range": [570.7, 673.3], "nice": false, "zero": false}, "axis": {"orient": "bottom", "offset": -707.7, "values": [7, 11, 15], "format": "d", "tickSize": 2.5, "labelPadding": 0, "labelFontSize": 9.5, "title": "Volume (ml)", "titleFontSize": 12, "titleX": 625.7, "titleY": 21.5}},
    "y": {"field": "v", "type": "quantitative", "scale": {"domain": [2.7, 30], "range": [87.3, 15.7], "nice": false, "zero": false}, "axis": {"orient": "left", "offset": -570.7, "values": [15, 30], "format": "d", "tickSize": 2.5, "labelFontSize": 9.5, "title": "Intensity (220 nm)", "titleFontSize": 10, "titleX": -26.7, "titleY": 44.7}},
    "color": {"field": "s", "type": "nominal", "scale": {"domain": ["lb", "db"], "range": ["#3daee4", "#4a4b99"]}, "legend": null}
   }},
  {"data": {"name": "I_seg"}, "mark": {"type": "rule", "color": "#333", "strokeWidth": 1},
   "encoding": {"x": {"field": "x", "type": "quantitative"}, "y": {"field": "y", "type": "quantitative"}, "x2": {"field": "x2"}, "y2": {"field": "y2"}}},
  {"data": {"name": "I_txt"}, "mark": {"type": "text", "fontSize": 10, "align": "center", "baseline": "middle"},
   "encoding": {"x": {"field": "x", "type": "quantitative"}, "y": {"field": "y", "type": "quantitative"}, "text": {"field": "t"}}}
 ]},
 {"layer": [
  {"data": {"name": "E_cur"}, "mark": {"type": "line", "strokeWidth": 2, "interpolate": "monotone"},
   "encoding": {
    "x": {"field": "x", "type": "quantitative", "scale": {"domain": [310, 498], "range": [403, 661.7], "nice": false, "zero": false}, "axis": {"orient": "bottom", "offset": -310.3, "values": [310, 350, 390, 430, 470], "format": "d", "title": "Emission Wavelength (nm)", "titleX": 505, "titleY": 34.3}},
    "y": {"field": "v", "type": "quantitative", "scale": {"domain": [0, 300], "range": [484.7, 294], "nice": false, "zero": false}, "axis": {"orient": "left", "offset": -403, "values": [100, 200, 300], "format": "d", "title": "Fluorescence Intensity (mAu)", "titleFontSize": 14, "titleX": -51, "titleY": 387.5}},
    "color": {"field": "s", "type": "nominal", "scale": {"domain": ["pink", "red", "green", "black"], "range": ["#c384c9", "#c0171d", "#6fae87", "#111111"]}, "legend": null}
   }},
  {"data": {"name": "E_vl"}, "mark": {"type": "rule", "color": "#888", "strokeDash": [4, 3], "strokeWidth": 1},
   "encoding": {"x": {"field": "x", "type": "quantitative"}, "y": {"field": "y", "type": "quantitative"}, "y2": {"field": "y2"}}},
  {"data": {"name": "E_arrow"}, "mark": {"type": "rule", "color": "#111", "strokeDash": [4, 2.5], "strokeWidth": 1.7},
   "encoding": {"x": {"field": "x", "type": "quantitative"}, "y": {"field": "y", "type": "quantitative"}, "x2": {"field": "x2"}, "y2": {"field": "y2"}}},
  {"data": {"name": "E_head"}, "mark": {"type": "point", "shape": "triangle-down", "filled": true, "color": "#111", "size": 38, "opacity": 1},
   "encoding": {"x": {"field": "x", "type": "quantitative"}, "y": {"field": "y", "type": "quantitative"}}},
  {"data": {"name": "E_seg"}, "mark": {"type": "rule", "color": "#111", "strokeWidth": 1},
   "encoding": {"x": {"field": "x", "type": "quantitative"}, "y": {"field": "y", "type": "quantitative"}, "x2": {"field": "x2"}, "y2": {"field": "y2"}}},
  {"data": {"name": "E_txtL"}, "mark": {"type": "text", "fontSize": 14, "align": "left", "baseline": "middle"},
   "encoding": {"x": {"field": "x", "type": "quantitative"}, "y": {"field": "y", "type": "quantitative"}, "text": {"field": "t"}}},
  {"data": {"name": "E_txtS"}, "mark": {"type": "text", "fontSize": 10.5, "align": "center", "baseline": "middle"},
   "encoding": {"x": {"field": "x", "type": "quantitative"}, "y": {"field": "y", "type": "quantitative"}, "text": {"field": "t"}}},
  {"data": {"name": "E_lbl"}, "mark": {"type": "text", "fontSize": 14, "fontWeight": "bold", "align": "center", "baseline": "middle", "color": "#000"},
   "encoding": {"x": {"field": "x", "type": "quantitative"}, "y": {"field": "y", "type": "quantitative"}, "text": {"field": "t"}}}
 ]},
 {"resolve": {"scale": {"color": "independent", "shape": "independent"}},
  "layer": [
  {"data": {"name": "F_fit"}, "mark": {"type": "line", "strokeWidth": 1.3, "strokeDash": [5, 3], "interpolate": "monotone"},
   "encoding": {
    "x": {"field": "x", "type": "quantitative", "scale": {"domain": [0, 49.25], "range": [390, 655], "nice": false, "zero": false}, "axis": {"orient": "bottom", "offset": -55, "values": [0, 10, 20, 30, 40], "format": "d", "labelFontSize": 14, "title": "Molar Ratio of Aβ to eAPP₂₃₀₋₆₂₄", "titleFontSize": 17, "titleX": 519, "titleY": 30.7}},
    "y": {"field": "v", "type": "quantitative", "title": "Fₒ/F (375 nm)", "scale": {"domain": [0.41, 4], "range": [740, 578.3], "nice": false, "zero": false}, "axis": {"orient": "left", "offset": -390, "values": [1, 2, 3, 4], "format": "d", "labelFontSize": 14, "title": "Fₒ/F (375 nm)", "titleFontSize": 17, "titleX": -38, "titleY": 646.5}},
    "color": {"field": "s", "type": "nominal", "scale": {"domain": ["f13", "f42", "f40", "f200"], "range": ["#333333", "#8a5fb0", "#5faa80", "#4a5db5"]}, "legend": null}
   }},
  {"data": {"name": "F_err"}, "mark": {"type": "errorbar", "ticks": {"size": 7}},
   "encoding": {"x": {"field": "x", "type": "quantitative", "title": "Molar Ratio of Aβ to eAPP₂₃₀₋₆₂₄"}, "y": {"field": "lo", "type": "quantitative", "title": "Fₒ/F (375 nm)"}, "y2": {"field": "hi"},
    "color": {"field": "s", "type": "nominal", "scale": {"domain": ["d13", "c42", "t40"], "range": ["#222222", "#8a5fb0", "#5faa80"]}, "legend": null}}},
  {"data": {"name": "F_pts"}, "mark": {"type": "point", "filled": true, "size": 45, "opacity": 1},
   "encoding": {"x": {"field": "x", "type": "quantitative"}, "y": {"field": "v", "type": "quantitative"},
    "color": {"field": "s", "type": "nominal", "scale": {"domain": ["c42", "t40", "v200"], "range": ["#8b62aa", "#68b088", "#4457b3"]}, "legend": null},
    "shape": {"field": "s", "type": "nominal", "scale": {"domain": ["c42", "t40", "v200"], "range": ["circle", "triangle-up", "triangle-down"]}, "legend": null}}},
  {"data": {"name": "F_d13"}, "mark": {"type": "point", "shape": "diamond", "filled": true, "fill": "#9a6590", "stroke": "#111", "strokeWidth": 1, "size": 50, "opacity": 1},
   "encoding": {"x": {"field": "x", "type": "quantitative"}, "y": {"field": "v", "type": "quantitative"}}},
  {"data": {"name": "F_seg"}, "mark": {"type": "rule", "color": "#111", "strokeWidth": 1},
   "encoding": {"x": {"field": "x", "type": "quantitative"}, "y": {"field": "y", "type": "quantitative"}, "x2": {"field": "x2"}, "y2": {"field": "y2"}}},
  {"data": {"name": "F_txt"}, "mark": {"type": "text", "fontSize": 14, "align": "left", "baseline": "middle"},
   "encoding": {"x": {"field": "x", "type": "quantitative"}, "y": {"field": "y", "type": "quantitative"}, "text": {"field": "t"}}},
  {"data": {"name": "F_lbl"}, "mark": {"type": "text", "fontSize": 14, "fontWeight": "bold", "align": "center", "baseline": "middle", "color": "#000"},
   "encoding": {"x": {"field": "x", "type": "quantitative"}, "y": {"field": "y", "type": "quantitative"}, "text": {"field": "t"}}}
 ]}
]
}
